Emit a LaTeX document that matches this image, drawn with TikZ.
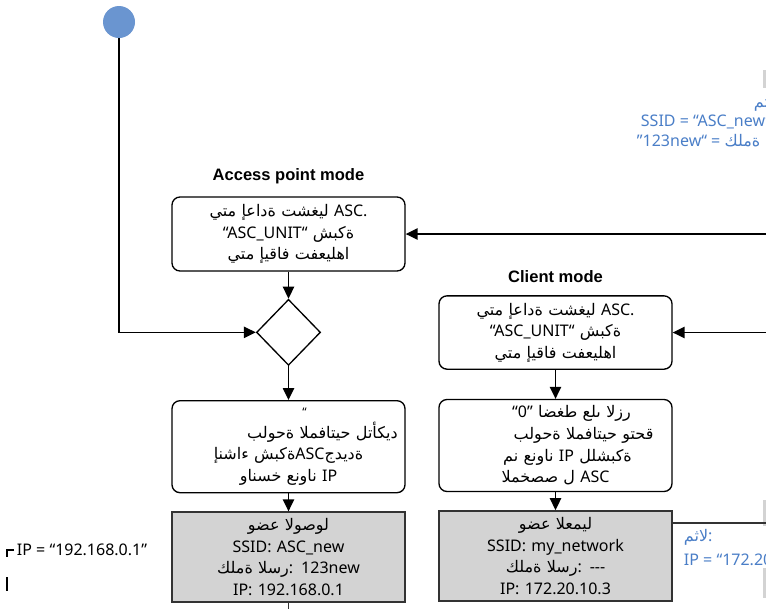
\documentclass[tikz,border=0pt]{standalone}
\usepackage{fontspec}
\setmainfont{Noto Sans}
\newfontfamily\titlefont{Liberation Sans}
\newfontfamily\arabicfont[Script=Arabic]{DejaVu Sans}
\TeXXeTstate=1
\usetikzlibrary{
  arrows.meta,
  positioning,
  shapes.geometric
}
\definecolor{startblue}{HTML}{6A95D0}
\definecolor{noteblue}{HTML}{4A7EC7}
\definecolor{boxgrey}{HTML}{D3D3D3}
\definecolor{darkgrey}{HTML}{333333}
\tikzset{
  stepbox/.style={
    rectangle, rounded corners=6pt, draw=black, fill=white,
    line width=1pt, text width=168pt, minimum width=174.75pt,
    minimum height=#1, inner sep=3.375pt, align=center,
    font=\fontsize{12}{16.2}\selectfont
  },
  modebox/.style={
    rectangle, draw=darkgrey, fill=boxgrey, line width=1pt,
    text width=168pt, minimum width=174.75pt, minimum height=67.5pt,
    inner sep=3.375pt, align=center,
    font=\fontsize{12}{16.2}\selectfont
  },
  decision/.style={
    diamond, draw=black, fill=white, line width=1pt,
    minimum width=48pt, minimum height=49.5pt, inner sep=0pt
  },
  startdot/.style={
    circle, fill=startblue, minimum size=24pt, inner sep=0pt
  },
  modetitle/.style={
    font=\fontsize{12.4}{14}\selectfont\titlefont\bfseries
  },
  notetext/.style={
    font=\fontsize{12}{15}\selectfont, align=left, inner sep=2pt
  },
  bluenote/.style={
    notetext, text=noteblue
  },
  flow/.style={
    -{Triangle[length=9pt,width=8.5pt]}, line width=1.1pt
  },
  plain/.style={
    line width=1.1pt, color=darkgrey
  },
  notedash/.style={
    line width=1pt, dash pattern=on 10.5pt off 15pt
  },
}
\newcommand{\arab}[1]{{\arabicfont\beginR #1\endR}}

\begin{document}
\begin{tikzpicture}[x=0.75pt, y=-0.75pt]
  \useasboundingbox (0,0) rectangle (766,608);
  \clip (0,0) rectangle (766,608);

  % parts of boxes outside the view
  \fill[boxgrey] (763,70) rectangle (800,88);
  \fill[boxgrey] (763,500) rectangle (800,598);

  \node[startdot] (start) at (119,22) {};

  % access point column
  \node[stepbox=55.5pt] (apreset) at (288.5,234)
    {\arab{ليغشت ةداعإ متي} ASC.\\“ASC\_UNIT“ \arab{ةكبش}\\\arab{اهليعفت فاقيإ متي}};
  \node[modetitle, above=6pt of apreset] (aptitle) {Access point mode};
  \node[decision, below=20.25pt of apreset] (apcheck) {};
  \node[stepbox=69pt, below=25.5pt of apcheck] (apkeys)
    {\makebox[0pt]{\hspace*{24pt}\small“}\\
     \makebox[0pt]{\hspace*{51pt}\arab{ديكأتل حيتافملا ةحولب}}\\
     \arab{ةكبش ءاشنإ}ASC\arab{ةديدج}\\\arab{ناونع خسناو} IP};
  \node[modebox, below=13.5pt of apkeys] (apmode)
    {\arab{لوصولا عضو}\\SSID: ASC\_new\\\arab{رسلا ةملك}: 123new\\IP: 192.168.0.1};

  % client column
  \node[stepbox=55pt] (clreset) at (555.5,332.5)
    {\arab{ليغشت ةداعإ متي} ASC.\\“ASC\_UNIT“ \arab{ةكبش}\\\arab{اهليعفت فاقيإ متي}};
  \node[modetitle, above=6pt of clreset] (cltitle) {Client mode};
  \node[stepbox=69pt, below=21.75pt of clreset] (clkeys)
    {\makebox[0pt]{\hspace*{24pt}“0” \arab{رزلا ىلع طغضا}}\\
     \makebox[0pt]{\hspace*{42pt}\arab{قحتو حيتافملا ةحولب}}\\
     \makebox[0pt]{\hspace*{18pt}\arab{ناونع نم} IP \arab{ةكبشلل}}\\
     \arab{ل صصخملا} ASC};
  \node[modebox, below=13.5pt of clkeys] (clmode)
    {\arab{ليمعلا عضو}\\SSID: my\_network\\\arab{رسلا ةملك}: -{}-{}-\\IP: 172.20.10.3};

  % notes
  \node[notetext, anchor=west] (apnote) at (14,550) {IP = “192.168.0.1”};
  \node[bluenote, anchor=west] (exhead) at (751,103) {\arab{لاثم}:};
  \node[bluenote, anchor=north west] (exap) at (634,112)
    {\hspace*{3pt}SSID = “ASC\_new”\\”123new“ = \arab{ةملك}};
  \node[bluenote, anchor=north west, fill=white, font=\fontsize{12}{18}\selectfont] (excl) at (681,526)
    {\arab{لاثم}:\\IP = “172.20.10.3”};

  \coordinate (apin) at (770,234);
  \coordinate (clin) at (770,332.5);
  \coordinate (apdown) at (288.5,612);
  \coordinate (clout) at (770,523);
  \coordinate (noteend) at (7,612);

  \draw[flow] (start.south) |- (apcheck.west);
  \draw[flow] (apin) -- (apreset);
  \draw[flow] (apreset) -- (apcheck);
  \draw[flow] (apcheck) -- (apkeys);
  \draw[flow] (apkeys) -- (apmode);
  \draw[plain] (apmode) -- (apdown);
  \draw[flow] (clin) -- (clreset);
  \draw[flow] (clreset) -- (clkeys);
  \draw[flow] (clkeys) -- (clmode);
  \draw[plain] (clmode.east |- clout) -- (clout);
  \draw[notedash] (apnote.west) -| (noteend);
\end{tikzpicture}
\end{document}
